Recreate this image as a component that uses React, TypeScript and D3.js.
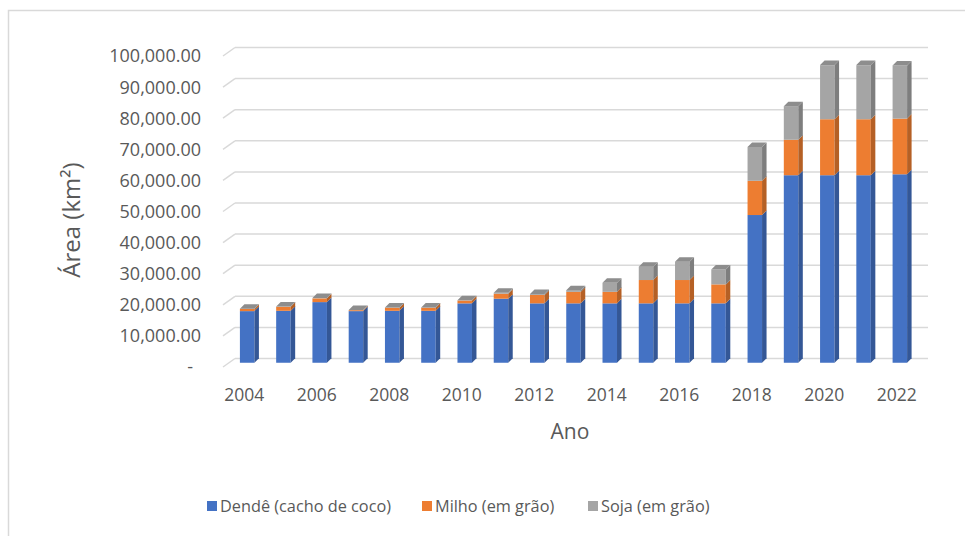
import React from "react";
import * as d3 from "d3";

const years = [2004, 2005, 2006, 2007, 2008, 2009, 2010, 2011, 2012, 2013, 2014, 2015, 2016, 2017, 2018, 2019, 2020, 2021, 2022];
const dende = [16600, 16700, 19500, 16600, 16700, 16700, 19100, 20600, 19100, 19100, 19100, 19100, 19100, 19100, 47500, 60300, 60300, 60300, 60600];
const milho = [700, 1300, 1200, 300, 1000, 1000, 900, 1600, 2700, 3700, 3700, 7500, 7500, 6100, 11000, 11400, 18000, 18000, 17900];
const soja = [100, 100, 100, 50, 100, 100, 100, 300, 300, 550, 2900, 4300, 5900, 4800, 10900, 10800, 17400, 17400, 17100];
const yTicks = [0, 10000, 20000, 30000, 40000, 50000, 60000, 70000, 80000, 90000, 100000];
const xTickYears = [2004, 2006, 2008, 2010, 2012, 2014, 2016, 2018, 2020, 2022];
const seriesNames = ["Dendê (cacho de coco)", "Milho (em grão)", "Soja (em grão)"];
const seriesColors = ["#4472C4", "#ED7D31", "#A5A5A5"];

const FONT = "'Open Sans', sans-serif";
const TXT = "#595959";

export default function App() {
  const W = 965, H = 536;
  const depthX = 12, depthY = 8.5;
  const yFront = d3.scaleLinear().domain([0, 100000]).range([367, 56]);
  const yBar = d3.scaleLinear().domain([0, 100000]).range([362.75, 51.75]);
  const wallLeft = 223, wallRight = 928;
  const x = d3.scaleBand<number>().domain(years).range([223.5, 923.5]).paddingInner(0.6).paddingOuter(0.4525);
  const bw = x.bandwidth();
  const bdx = 4.5, bdy = 4.5;

  const stacked = years.map((yr, i) => {
    const vals = [dende[i], milho[i], soja[i]];
    let acc = 0;
    return vals.map((v, s) => {
      const seg = { s, y0: acc, y1: acc + v };
      acc += v;
      return seg;
    });
  });

  const fmt = d3.format(",.2f");

  return (
    <svg width={W} height={H} style={{ position: "absolute", left: 0, top: 0 }}>
      <rect x={0} y={0} width={W} height={H} fill="#fff" />
      <rect x={8.5} y={10.5} width={1000} height={600} fill="none" stroke="#d9d9d9" strokeWidth={1.5} />
      {yTicks.map((t) => {
        const yf = yFront(t);
        const yb = yf - depthY;
        return (
          <g key={t}>
            <line x1={wallLeft} y1={yf} x2={wallLeft + depthX} y2={yb} stroke="#d9d9d9" strokeWidth={1.5} />
            <line x1={wallLeft + depthX} y1={yb} x2={wallRight} y2={yb} stroke="#d9d9d9" strokeWidth={1.5} />
          </g>
        );
      })}
      {yTicks.map((t) => (
        <text key={t} x={t === 0 ? 193 : 201} y={yFront(t)} dy="0.36em" textAnchor="end" fontFamily={FONT} fontSize={18} fill={TXT}>
          {t === 0 ? "-" : fmt(t)}
        </text>
      ))}
      {years.map((yr, i) => {
        const x0 = x(yr)!;
        const segs = stacked[i];
        const top = segs[segs.length - 1];
        return (
          <g key={yr}>
            {segs.map((sg) => {
              const c = seriesColors[sg.s];
              const side = d3.color(c)!.darker(0.75).formatHex();
              const yt = yBar(sg.y1), yb = yBar(sg.y0);
              return (
                <g key={sg.s}>
                  <rect x={x0} y={yt} width={bw} height={Math.max(0, yb - yt)} fill={c} />
                  <polygon
                    points={`${x0 + bw},${yb} ${x0 + bw + bdx},${yb - bdy} ${x0 + bw + bdx},${yt - bdy} ${x0 + bw},${yt}`}
                    fill={side}
                  />
                </g>
              );
            })}
            {(() => {
              const yt = yBar(top.y1);
              const topCol = d3.color(seriesColors[top.s])!.darker(0.45).formatHex();
              return (
                <polygon
                  points={`${x0},${yt} ${x0 + bdx},${yt - bdy} ${x0 + bw + bdx},${yt - bdy} ${x0 + bw},${yt}`}
                  fill={topCol}
                />
              );
            })()}
          </g>
        );
      })}
      {xTickYears.map((yr) => (
        <text key={yr} x={x(yr)! + bw / 2 - 3} y={401} textAnchor="middle" fontFamily={FONT} fontSize={17.5} fill={TXT}>
          {yr}
        </text>
      ))}
      <text x={0} y={0} transform="translate(80,220) rotate(-90)" textAnchor="middle" fontFamily={FONT} fontSize={24} fill={TXT}>
        Área (km²)
      </text>
      <text x={570} y={439} textAnchor="middle" fontFamily={FONT} fontSize={21} fill={TXT}>
        Ano
      </text>
      {[
        { sq: 207, tx: 220 },
        { sq: 422, tx: 435 },
        { sq: 588, tx: 601 },
      ].map((p, i) => (
        <g key={i}>
          <rect x={p.sq} y={501} width={10} height={10} fill={seriesColors[i]} />
          <text x={p.tx} y={512} fontFamily={FONT} fontSize={16.3} fill={TXT}>
            {seriesNames[i]}
          </text>
        </g>
      ))}
    </svg>
  );
}
